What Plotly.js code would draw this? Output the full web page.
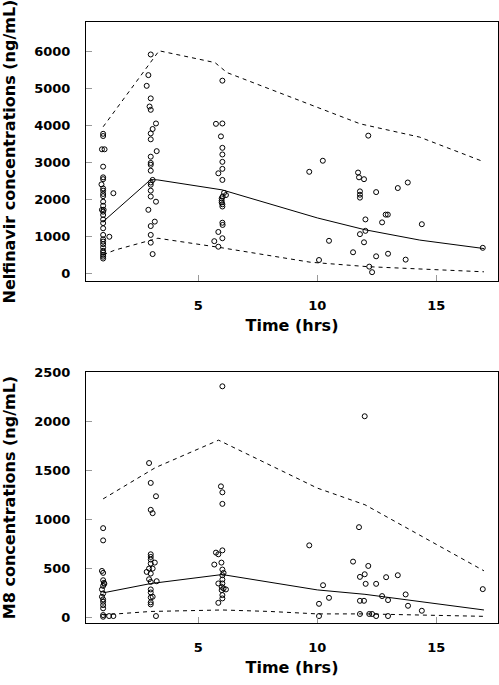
<!DOCTYPE html>
<html>
<head>
<meta charset="utf-8">
<script src="https://cdn.plot.ly/plotly-3.0.1.min.js"></script>
<style>html,body{margin:0;padding:0;background:#fff;}#chart{width:499px;height:685px;}</style>
</head>
<body>
<div id="chart"></div>
<script>
// ---------- Nelfinavir observations ----------
var nelTime = [
  1.0,1.0,0.95,1.06,1.0,1.0,1.0,0.93,1.0,1.0,1.0,1.0,1.0,1.0,0.95,1.02,1.0,1.0,1.0,1.0,1.0,1.0,1.0,1.0,1.0,1.0,1.0,1.0,1.0,1.0,1.0,1.43,1.26,
  3.0,2.9,2.83,3.0,2.95,3.0,3.22,3.08,3.0,3.0,3.25,3.0,3.0,3.0,3.0,3.08,3.0,3.0,3.0,3.0,3.22,2.9,3.17,3.0,3.0,3.0,3.08,
  6.01,5.74,6.01,5.95,6.01,6.01,6.01,6.01,5.84,6.01,6.08,6.16,6.02,5.98,5.98,5.98,6.01,6.01,6.01,6.02,5.84,6.01,5.67,5.84,
  9.66,10.23,10.49,10.07,11.71,11.75,11.96,12.14,11.79,11.79,11.79,12.47,13.38,13.80,12.02,12.87,12.96,12.72,14.39,12.02,11.79,11.96,11.50,12.47,12.97,13.71,12.18,12.30,16.95
];
var nelConc = [
  3780,3720,3360,3360,2890,2600,2550,2410,2300,2240,2150,2090,1940,1830,1720,1720,1670,1580,1460,1360,1220,1040,920,860,790,700,610,560,500,450,400,2170,990,
  5930,5370,5080,4740,4520,4430,4060,3910,3790,3630,3310,3160,2990,2940,2780,2530,2460,2400,2240,2080,1940,1720,1400,1280,1040,830,520,
  5220,4050,4060,3710,3400,3220,3020,2830,2710,2530,2180,2120,2080,2030,1970,1920,1870,1810,1370,1310,1120,950,870,720,
  2750,3050,880,360,2730,2600,2550,3730,2220,2130,2050,2200,2310,2460,1460,1590,1590,1380,1330,1150,1060,840,570,460,530,370,180,30,690
];
// Nelfinavir prediction lines (median and interval)
var nelMedTime = [1, 1.45, 3, 3.3, 6, 10, 12, 14.3, 17];
var nelMed     = [1400, 1660, 2540, 2530, 2260, 1500, 1180, 900, 670];
var nelHiTime  = [1, 3.35, 5.7, 6.2, 11.8, 14.3, 17];
var nelHi      = [3970, 6030, 5710, 5440, 4050, 3690, 3020];
var nelLoTime  = [1, 1.5, 3.3, 5.9, 9.7, 12.1, 17];
var nelLo      = [500, 630, 950, 700, 300, 180, 40];

// ---------- M8 observations ----------
var m8Time = [
  1.0,1.0,0.95,1.0,1.0,1.03,1.05,1.0,0.95,1.0,0.95,1.0,1.0,1.0,1.0,1.0,1.0,1.25,1.43,
  2.93,3.0,3.22,3.0,3.08,3.0,3.0,3.0,3.17,3.0,3.08,2.93,2.83,3.0,3.25,2.93,3.0,3.0,3.0,3.08,3.0,3.0,3.0,3.22,
  6.01,5.95,6.01,6.01,5.74,5.84,6.01,5.97,5.67,6.01,6.06,6.01,5.84,6.01,6.01,5.98,6.06,6.16,5.98,6.01,6.01,5.84,
  9.66,10.07,10.07,10.24,10.49,11.99,11.75,11.50,12.14,11.79,11.99,12.03,12.47,12.89,13.38,12.72,12.97,13.71,13.81,14.39,11.79,11.96,11.79,12.18,12.30,12.47,12.97,16.95
];
var m8Conc = [
  911,786,474,454,379,352,342,321,285,244,210,183,159,125,92,23,6,13,13,
  1576,1373,1237,1098,1064,644,617,590,559,549,498,498,464,447,369,389,362,285,254,210,203,153,132,13,
  2360,1338,1277,1159,661,644,684,559,539,488,454,430,346,386,346,311,295,285,278,227,193,148,
  735,138,13,328,199,2054,921,569,525,413,440,342,342,410,430,217,176,234,118,67,169,169,34,34,34,13,13,288
];
var m8MedTime = [1, 3, 6, 10, 12, 17];
var m8Med     = [250, 345, 437, 280, 235, 75];
var m8HiTime  = [1, 3.2, 5.85, 10, 12, 17];
var m8Hi      = [1210, 1530, 1810, 1320, 1150, 475];
var m8LoTime  = [1, 3, 6, 8, 10, 12, 17];
var m8Lo      = [25, 60, 75, 60, 35, 35, 10];

var xTickVals = [5, 10, 15];
var nelTickVals = [0, 1000, 2000, 3000, 4000, 5000, 6000];
var m8TickVals = [0, 500, 1000, 1500, 2000, 2500];

var FONT = '"DejaVu Sans", sans-serif';
var dashStyle = '4px,4px';

function pts(x, y, xa, ya) {
  return {x: x, y: y, xaxis: xa, yaxis: ya, type: 'scatter', mode: 'markers',
    marker: {symbol: 'circle-open', size: 5, color: '#000', line: {width: 1, color: '#000'}},
    hoverinfo: 'x+y', showlegend: false};
}
function ln(x, y, xa, ya, dash) {
  return {x: x, y: y, xaxis: xa, yaxis: ya, type: 'scatter', mode: 'lines',
    line: {color: '#000', width: 1, dash: dash}, showlegend: false};
}

var data = [
  pts(nelTime, nelConc, 'x', 'y'),
  ln(nelMedTime, nelMed, 'x', 'y', 'solid'),
  ln(nelHiTime, nelHi, 'x', 'y', dashStyle),
  ln(nelLoTime, nelLo, 'x', 'y', dashStyle),
  pts(m8Time, m8Conc, 'x2', 'y2'),
  ln(m8MedTime, m8Med, 'x2', 'y2', 'solid'),
  ln(m8HiTime, m8Hi, 'x2', 'y2', dashStyle),
  ln(m8LoTime, m8Lo, 'x2', 'y2', dashStyle)
];

function xax(anchor) {
  return {anchor: anchor, domain: [0, 1], range: [0.28, 17.59], tickvals: xTickVals,
    ticks: 'inside', ticklen: 6, tickwidth: 1, tickcolor: '#999',
    showline: true, mirror: true, linecolor: '#000', linewidth: 1,
    showgrid: false, zeroline: false, ticklabelstandoff: 12,
    tickfont: {family: FONT, size: 13, color: '#000', weight: 'bold'},
    title: {text: 'Time (hrs)', standoff: 8, font: {family: FONT, size: 16, color: '#000', weight: 'bold'}}};
}
function yax(anchor, dom, rng, tv, ttl) {
  return {anchor: anchor, domain: dom, range: rng, tickvals: tv,
    ticks: 'inside', ticklen: 6, tickwidth: 1, tickcolor: '#999',
    showline: true, mirror: true, linecolor: '#000', linewidth: 1,
    showgrid: false, zeroline: false, ticklabelstandoff: 12,
    tickfont: {family: FONT, size: 13, color: '#000', weight: 'bold'},
    title: {text: ttl, standoff: 14, font: {family: FONT, size: 16, color: '#000', weight: 'bold'}}};
}

var layout = {
  width: 499, height: 685,
  margin: {l: 86, r: 1, t: 22, b: 62},
  paper_bgcolor: '#fff', plot_bgcolor: '#fff',
  font: {family: FONT, color: '#000'},
  xaxis: xax('y'),
  yaxis: yax('x', [0.569, 1], [-210, 6810], nelTickVals, 'Nelfinavir concentrations (ng/mL)'),
  xaxis2: xax('y2'),
  yaxis2: yax('x2', [0, 0.4176], [-58, 2506], m8TickVals, 'M8 concentrations (ng/mL)')
};

Plotly.newPlot('chart', data, layout, {displayModeBar: false, staticPlot: true});
</script>
</body>
</html>
